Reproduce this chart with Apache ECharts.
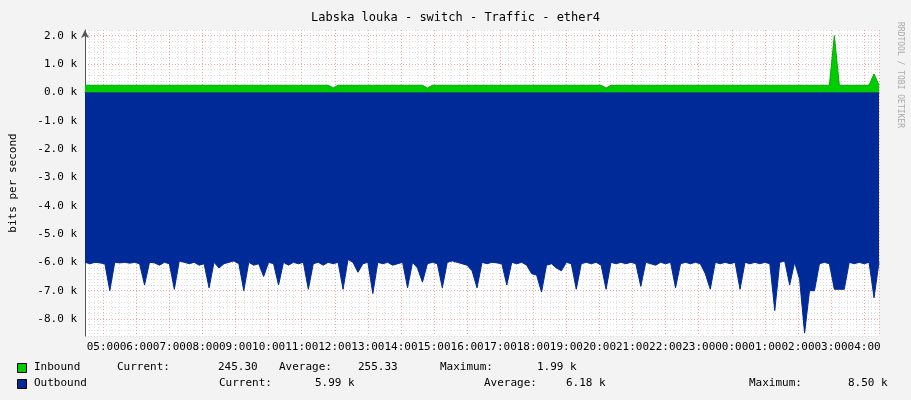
<!DOCTYPE html>
<html><head><meta charset="utf-8">
<script src="https://cdn.jsdelivr.net/npm/echarts@6/dist/echarts.min.js"></script>
<style>html,body{margin:0;padding:0;background:#f3f3f3}#c{width:911px;height:400px}</style>
</head><body><div id="c"></div>
<script>
const title = 'Labska louka - switch - Traffic - ether4';
const yTicks = [-8,-7,-6,-5,-4,-3,-2,-1,0,1,2];
const stepMinutes = 9;
const outbound = [
-6.0,-6.05,-6.0,-6.02,-6.05,-7.0,-6.0,-6.02,-6.0,-6.03,
-6.0,-6.05,-6.8,-6.0,-6.02,-6.1,-6.0,-6.05,-6.95,-5.95,
-6.0,-6.05,-6.0,-6.1,-6.05,-6.9,-6.0,-6.2,-6.05,-6.0,
-5.95,-6.05,-7.0,-6.0,-6.1,-6.05,-6.5,-6.0,-6.05,-6.8,
-6.0,-6.1,-6.0,-6.05,-6.0,-6.95,-6.05,-6.0,-6.1,-6.0,
-6.05,-6.0,-6.95,-5.9,-6.0,-6.35,-6.05,-6.0,-7.1,-6.0,
-6.05,-6.0,-6.1,-6.05,-6.0,-6.9,-6.0,-6.2,-6.7,-6.05,
-6.0,-6.05,-6.9,-6.0,-5.95,-6.0,-6.05,-6.1,-6.3,-6.9,
-6.0,-6.05,-6.0,-6.02,-6.05,-6.8,-6.0,-6.05,-6.0,-6.1,
-6.4,-6.45,-7.05,-6.1,-6.05,-6.2,-6.3,-6.0,-6.05,-6.95,
-6.05,-6.0,-6.05,-6.0,-6.1,-6.95,-6.0,-6.05,-6.0,-6.05,
-6.0,-6.05,-6.85,-6.0,-6.05,-6.1,-6.0,-6.05,-6.0,-6.9,
-6.05,-6.0,-6.05,-6.0,-6.05,-6.4,-6.95,-6.0,-6.05,-6.0,
-6.05,-6.0,-6.95,-6.0,-6.05,-6.0,-6.05,-6.0,-6.05,-7.7,
-6.0,-5.95,-6.8,-6.0,-6.6,-8.5,-7.0,-7.0,-6.05,-6.0,
-6.05,-6.95,-6.95,-6.95,-6.0,-6.05,-6.0,-6.05,-6.0,-7.25,
-6.0];
const inbound = [
0.25,0.25,0.25,0.25,0.25,0.25,0.25,0.25,0.25,0.25,
0.25,0.25,0.25,0.25,0.25,0.25,0.25,0.25,0.25,0.25,
0.25,0.25,0.25,0.25,0.25,0.25,0.25,0.25,0.25,0.25,
0.25,0.25,0.25,0.25,0.25,0.25,0.25,0.25,0.25,0.25,
0.25,0.25,0.25,0.25,0.25,0.25,0.25,0.25,0.25,0.25,
0.15,0.25,0.25,0.25,0.25,0.25,0.25,0.25,0.25,0.25,
0.25,0.25,0.25,0.25,0.25,0.25,0.25,0.25,0.25,0.15,
0.25,0.25,0.25,0.25,0.25,0.25,0.25,0.25,0.25,0.25,
0.25,0.25,0.25,0.25,0.25,0.25,0.25,0.25,0.25,0.25,
0.25,0.25,0.25,0.25,0.25,0.25,0.25,0.25,0.25,0.25,
0.25,0.25,0.25,0.25,0.25,0.15,0.25,0.25,0.25,0.25,
0.25,0.25,0.25,0.25,0.25,0.25,0.25,0.25,0.25,0.25,
0.25,0.25,0.25,0.25,0.25,0.25,0.25,0.25,0.25,0.25,
0.25,0.25,0.25,0.25,0.25,0.25,0.25,0.25,0.25,0.25,
0.25,0.25,0.25,0.25,0.25,0.25,0.25,0.25,0.25,0.25,
0.25,2.0,0.25,0.25,0.25,0.25,0.25,0.25,0.25,0.65,
0.25];
const start = new Date(2024,0,1,4,27).getTime();
const end = start + 24*3600*1000;
const t = i => start + i*stepMinutes*60000;
const mono = 'DejaVu Sans Mono';
const chart = echarts.init(document.getElementById('c'));
const txt = (x,y,s,extra) => Object.assign({type:'text',left:x,top:y,style:{text:s,font:'11px '+mono,fill:'#000'}},extra||{});
const sq = (x,y,c) => ({type:'rect',left:x,top:y,shape:{width:9,height:9},style:{fill:c,stroke:'#000',lineWidth:1}});
chart.setOption({
  backgroundColor:'#f3f3f3',
  animation:false,
  title:{text:title,left:'center',top:7,textStyle:{fontFamily:mono,fontSize:12,fontWeight:'normal',color:'#000'}},
  grid:{left:82,right:32,top:30,bottom:64,backgroundColor:'#fff',show:true,borderWidth:0},
  xAxis:{type:'time',min:start,max:end,minInterval:7200000,maxInterval:7200000,
    axisLine:{lineStyle:{color:'#555'},symbol:['none','arrow'],symbolSize:[6,8]},
    axisTick:{show:false},
    axisLabel:{formatter:'{HH}:{mm}',fontFamily:mono,fontSize:11,color:'#000',margin:6},
    splitLine:{show:true,lineStyle:{color:'#f2a5a5',type:[1,2]}},
    minorTick:{show:false,splitNumber:4},
    minorSplitLine:{show:true,lineStyle:{color:'#ddd',type:[1,2]}}},
  yAxis:{type:'value',min:-8.6,max:2.2,interval:0.2,
    name:'bits per second',nameLocation:'middle',nameGap:66,nameRotate:90,
    nameTextStyle:{fontFamily:mono,fontSize:11,color:'#000'},
    axisLine:{show:true,onZero:false,lineStyle:{color:'#555'},symbol:['none','arrow'],symbolSize:[6,8]},
    axisTick:{show:false},
    axisLabel:{fontFamily:mono,fontSize:11,color:'#000',margin:8,
      formatter:v=>{const r=Math.round(v);return Math.abs(v-r)<1e-6 && yTicks.includes(r)? r.toFixed(1)+' k':'';}},
    splitLine:{show:true,lineStyle:{color:['#ddd','#ddd','#ddd','#f2a5a5','#ddd'],type:[1,2]}}},
  series:[
    {name:'Outbound',type:'line',data:outbound.map((v,i)=>[t(i),v]),symbol:'none',
     lineStyle:{width:1,color:'#002A97'},areaStyle:{color:'#002A97',opacity:1,origin:0},z:2},
    {name:'Inbound',type:'line',data:inbound.map((v,i)=>[t(i),v]),symbol:'none',
     lineStyle:{width:1,color:'#00AA00'},areaStyle:{color:'#00CC00',opacity:1,origin:0},z:3}
  ],
  graphic:[
    sq(17,363,'#00CC00'), sq(17,379,'#002A97'),
    txt(34,362,'Inbound'), txt(117,362,'Current:'), txt(218,362,'245.30'),
    txt(279,362,'Average:'), txt(358,362,'255.33'), txt(440,362,'Maximum:'), txt(537,362,'1.99 k'),
    txt(34,378,'Outbound'), txt(219,378,'Current:'), txt(315,378,'5.99 k'),
    txt(484,378,'Average:'), txt(566,378,'6.18 k'), txt(749,378,'Maximum:'), txt(848,378,'8.50 k'),
    {type:'text',left:895,top:200,rotation:-Math.PI/2,originX:0,originY:0,
     style:{text:'RRDTOOL / TOBI OETIKER',font:'8px '+mono,fill:'#aaa',align:'center',verticalAlign:'middle'},x:900,y:75,left:null,top:null}
  ]
});
</script></body></html>
